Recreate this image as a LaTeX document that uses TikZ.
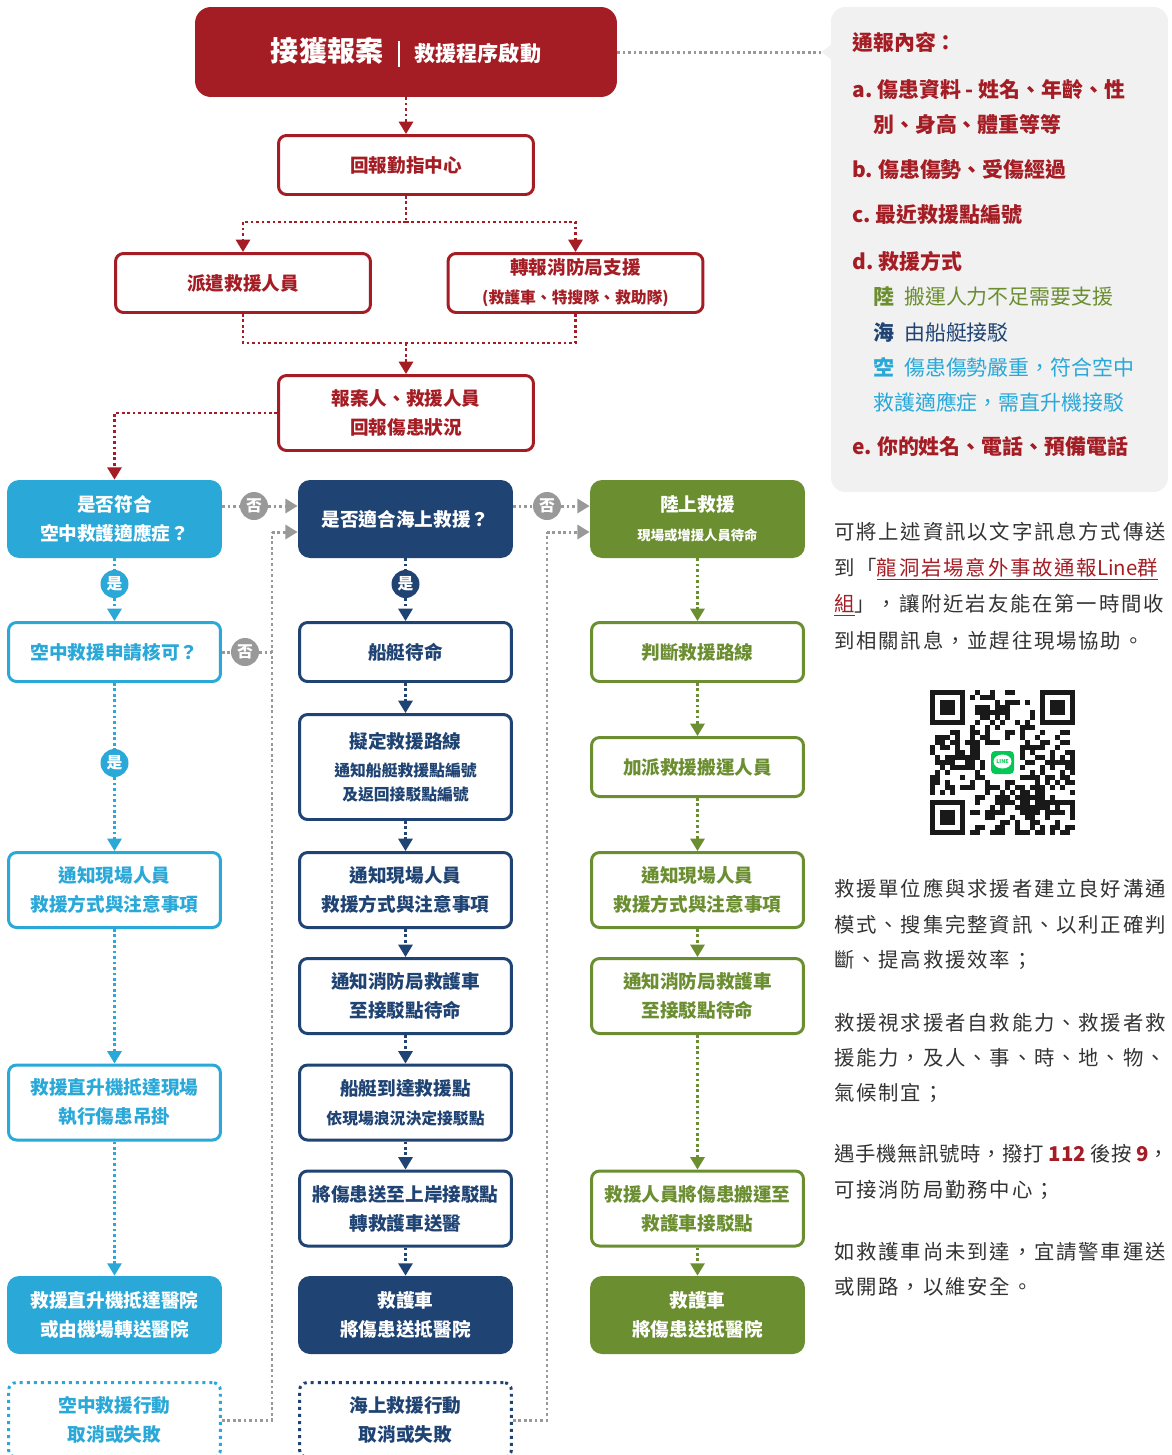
\documentclass[tikz,border=0pt]{standalone}
\usepackage{fontspec}
\setmainfont{Noto Sans CJK TC}
\newfontfamily\bodyface{Noto Sans CJK TC}[LetterSpace=9]
\usepackage{xcolor}
\usepackage{tikz}
\usetikzlibrary{arrows.meta,positioning,calc}
\definecolor{myred}{RGB}{165,29,36}
\definecolor{mycyan}{RGB}{42,168,216}
\definecolor{mynavy}{RGB}{31,67,115}
\definecolor{mygreen}{RGB}{107,142,49}
\definecolor{mygray}{RGB}{153,153,153}
\definecolor{mypanel}{RGB}{241,241,241}
\definecolor{mytext}{RGB}{51,51,51}
\definecolor{lineapp}{RGB}{6,199,85}
\newcommand{\boxfont}{\bfseries\fontsize{10.6}{16.5}\selectfont}
\newcommand{\smallfont}{\bfseries\fontsize{9}{13.7}\selectfont}
\newcommand{\tinyfont}{\bfseries\fontsize{7.6}{10}\selectfont}
\newcommand{\infofont}{\bfseries\fontsize{11.9}{14}\selectfont}
\newcommand{\bodyfont}{\bodyface\fontsize{11.6}{14}\selectfont}
\newcommand{\plainlatin}[1]{{\addfontfeature{LetterSpace=0}#1}}

\begin{document}
\begin{tikzpicture}[
    x=0.02cm, y=-0.02cm,
    redbox/.style={rectangle, draw=myred, text=myred, fill=white, line width=1.7pt, rounded corners=0.16cm, minimum width=5.1cm, minimum height=1.18cm, align=center, font=\boxfont, inner sep=1pt},
    colbox/.style={rectangle, draw=#1, text=#1, fill=white, line width=1.7pt, rounded corners=0.16cm, minimum width=4.24cm, minimum height=1.18cm, align=center, font=\boxfont, inner sep=1pt},
    tallbox/.style={minimum height=1.5cm},
    solidbox/.style={rectangle, fill=#1, text=white, rounded corners=0.24cm, minimum width=4.3cm, minimum height=1.56cm, align=center, font=\boxfont, inner sep=1pt},
    cancelbox/.style={colbox=#1, dash pattern=on 1.7pt off 2.3pt, minimum height=1.5cm},
    yesdot/.style={circle, fill=#1, text=white, minimum size=0.56cm, inner sep=0pt, font=\bfseries\fontsize{9}{9}\selectfont},
    nodot/.style={yesdot=mygray},
    link/.style={draw=#1, line width=1.5pt, dash pattern=on 1.5pt off 1.6pt},
    arrow/.style={link=#1, -{Triangle[width=8pt,length=7pt]}},
    graylink/.style={link=mygray, line width=1.7pt},
    grayarrow/.style={graylink, -{Triangle[width=8pt,length=7pt]}},
    infoline/.style={anchor=west, text=myred, font=\infofont, inner sep=0pt},
    bodyline/.style={anchor=west, text=mytext, font=\bodyfont, inner sep=0pt},
]
    \useasboundingbox (0,0) rectangle (1172,1455);

    % Report chain
    \node[rectangle, fill=myred, rounded corners=0.32cm, minimum width=8.44cm, minimum height=1.8cm, text=white] (alarm) at (406,52)
        {{\fontsize{16}{16}\selectfont\bfseries 接獲報案}\hspace{0.3cm}\rule[-0.12cm]{0.7pt}{0.52cm}\hspace{0.3cm}{\fontsize{12}{12}\selectfont\bfseries 救援程序啟動}};
    \node[redbox] (callcenter) at (406,165) {回報勤指中心};
    \node[redbox] (dispatch) at (243,283) {派遣救援人員};
    \node[redbox] (transfer) at (575.5,283) {轉報消防局支援\\{\smallfont (救護車、特搜隊、救助隊)}};
    \node[redbox, tallbox] (status) at (406,413) {報案人、救援人員\\回報傷患狀況};
    \draw[arrow=myred] (alarm) -- (callcenter);
    \coordinate (split) at (406,222);
    \draw[link=myred] (callcenter) -- (split);
    \draw[arrow=myred] (split) -| (dispatch);
    \draw[arrow=myred] (split) -| (transfer);
    \coordinate (merge) at (406,343);
    \draw[link=myred] (dispatch) |- (merge);
    \draw[link=myred] (transfer) |- (merge);
    \draw[arrow=myred] (merge) -- (status);

    % Air rescue
    \node[solidbox=mycyan] (airhead) at (114.5,519) {是否符合\\空中救護適應症？};
    \node[yesdot=mycyan] (airyes) at (114.5,584) {是};
    \node[colbox=mycyan] (airok) at (114.5,652) {空中救援申請核可？};
    \node[yesdot=mycyan] (airyes2) at (114.5,763) {是};
    \node[colbox=mycyan, tallbox] (airnotify) at (114.5,890) {通知現場人員\\救援方式與注意事項};
    \node[colbox=mycyan, tallbox] (heli) at (114.5,1102.5) {救援直升機抵達現場\\執行傷患吊掛};
    \node[solidbox=mycyan] (airfinal) at (114.5,1315) {救援直升機抵達醫院\\或由機場轉送醫院};
    \node[cancelbox=mycyan] (aircancel) at (114.5,1420) {空中救援行動\\取消或失敗};
    \draw[arrow=myred] (status) -| (airhead);
    \draw[link=mycyan] (airhead) -- (airyes);
    \draw[arrow=mycyan] (airyes) -- (airok);
    \draw[link=mycyan] (airok) -- (airyes2);
    \draw[arrow=mycyan] (airyes2) -- (airnotify);
    \draw[arrow=mycyan] (airnotify) -- (heli);
    \draw[arrow=mycyan] (heli) -- (airfinal);

    % Sea rescue
    \node[solidbox=mynavy] (seahead) at (405.5,519) {是否適合海上救援？};
    \node[yesdot=mynavy] (seayes) at (405.5,584) {是};
    \node[colbox=mynavy] (boat) at (405.5,652) {船艇待命};
    \node[colbox=mynavy, minimum height=2.1cm, font=\smallfont] (route) at (405.5,767) {{\boxfont 擬定救援路線}\\[2.4pt]通知船艇救援點編號\\及返回接駁點編號};
    \node[colbox=mynavy, tallbox] (seanotify) at (405.5,890) {通知現場人員\\救援方式與注意事項};
    \node[colbox=mynavy, tallbox] (seaamb) at (405.5,996) {通知消防局救護車\\至接駁點待命};
    \node[colbox=mynavy, tallbox] (arrive) at (405.5,1102.5) {船艇到達救援點\\{\smallfont 依現場浪況決定接駁點}};
    \node[colbox=mynavy, tallbox] (shore) at (405.5,1208.5) {將傷患送至上岸接駁點\\轉救護車送醫};
    \node[solidbox=mynavy] (seafinal) at (405.5,1315) {救護車\\將傷患送抵醫院};
    \node[cancelbox=mynavy] (seacancel) at (405.5,1420) {海上救援行動\\取消或失敗};
    \draw[link=mynavy] (seahead) -- (seayes);
    \draw[arrow=mynavy] (seayes) -- (boat);
    \draw[arrow=mynavy] (boat) -- (route);
    \draw[arrow=mynavy] (route) -- (seanotify);
    \draw[arrow=mynavy] (seanotify) -- (seaamb);
    \draw[arrow=mynavy] (seaamb) -- (arrive);
    \draw[arrow=mynavy] (arrive) -- (shore);
    \draw[arrow=mynavy] (shore) -- (seafinal);

    % Land rescue
    \node[solidbox=mygreen] (landhead) at (697.5,519) {陸上救援\\{\tinyfont 現場或增援人員待命}};
    \node[colbox=mygreen] (judge) at (697.5,652) {判斷救援路線};
    \node[colbox=mygreen] (porters) at (697.5,767) {加派救援搬運人員};
    \node[colbox=mygreen, tallbox] (landnotify) at (697.5,890) {通知現場人員\\救援方式與注意事項};
    \node[colbox=mygreen, tallbox] (landamb) at (697.5,996) {通知消防局救護車\\至接駁點待命};
    \node[colbox=mygreen, tallbox] (carry) at (697.5,1208.5) {救援人員將傷患搬運至\\救護車接駁點};
    \node[solidbox=mygreen] (landfinal) at (697.5,1315) {救護車\\將傷患送抵醫院};
    \draw[arrow=mygreen] (landhead) -- (judge);
    \draw[arrow=mygreen] (judge) -- (porters);
    \draw[arrow=mygreen] (porters) -- (landnotify);
    \draw[arrow=mygreen] (landnotify) -- (landamb);
    \draw[arrow=mygreen] (landamb) -- (carry);
    \draw[arrow=mygreen] (carry) -- (landfinal);

    % No branches and fall-backs
    \node[nodot] (airno) at (254,506) {否};
    \draw[graylink] (airno -| airhead.east) -- (airno);
    \draw[grayarrow] (airno) -- (airno -| seahead.west);
    \node[nodot] (okno) at (245,652) {否};
    \draw[graylink] (airok) -- (okno);
    \coordinate (airback) at (272,532);
    \draw[graylink] (okno) -- (okno -| airback);
    \draw[graylink] (aircancel) -| (airback);
    \draw[grayarrow] (airback) -- (airback -| seahead.west);
    \node[nodot] (seano) at (547,506) {否};
    \draw[graylink] (seano -| seahead.east) -- (seano);
    \draw[grayarrow] (seano) -- (seano -| landhead.west);
    \coordinate (seaback) at (547,532);
    \draw[graylink] (seacancel) -| (seaback);
    \draw[grayarrow] (seaback) -- (seaback -| landhead.west);

    % Info panel
    \node[rectangle, fill=mypanel, rounded corners=0.28cm, minimum width=6.74cm, minimum height=9.7cm] (info) at (999.5,249.5) {};
    \draw[graylink] (alarm) -- (alarm -| info.west);
    \fill[mypanel] (alarm.east -| info.west) ++(1,-8) -- ++(-10,8) -- ++(10,8) -- cycle;
    \node[infoline] (infohead) at (852,42) {通報內容：};
    \node[infoline] (infoa) at (852,90) {a.\hspace{0.1cm}傷患資料 - 姓名、年齡、性};
    \node[infoline] (infoa2) at (873,124) {別、身高、體重等等};
    \node[infoline] (infob) at (852,170) {b.\hspace{0.1cm}傷患傷勢、受傷經過};
    \node[infoline] (infoc) at (852,215) {c.\hspace{0.1cm}最近救援點編號};
    \node[infoline] (infod) at (852,261) {d.\hspace{0.1cm}救援方式};
    \node[infoline, text=mygreen] (infoland) at (873,297) {陸\hspace{0.2cm}{\mdseries 搬運人力不足需要支援}};
    \node[infoline, text=mynavy] (infosea) at (873,332) {海\hspace{0.2cm}{\mdseries 由船艇接駁}};
    \node[infoline, text=mycyan] (infoair) at (873,367) {空\hspace{0.2cm}{\mdseries 傷患傷勢嚴重，符合空中}};
    \node[infoline, text=mycyan, font=\infofont\mdseries] (infoair2) at (873,402) {救護適應症，需直升機接駁};
    \node[infoline] (infoe) at (852,447) {e.\hspace{0.1cm}你的姓名、電話、預備電話};

    % Notes
    \node[bodyline] (msg1) at (834,532) {可將上述資訊以文字訊息方式傳送};
    \node[bodyline] (msg2) at (834,569) {到「{\color{myred}\underline{龍洞岩場意外事故通報\plainlatin{Line}群}}};
    \node[bodyline] (msg3) at (834,605) {{\color{myred}\underline{組}}」，讓附近岩友能在第一時間收};
    \node[bodyline] (msg4) at (834,641) {到相關訊息，並趕往現場協助。};
    \node[bodyline] (tipa1) at (834,889) {救援單位應與求援者建立良好溝通};
    \node[bodyline] (tipa2) at (834,925) {模式、搜集完整資訊、以利正確判};
    \node[bodyline] (tipa3) at (834,960) {斷、提高救援效率；};
    \node[bodyline] (tipb1) at (834,1023) {救援視求援者自救能力、救援者救};
    \node[bodyline] (tipb2) at (834,1058) {援能力，及人、事、時、地、物、};
    \node[bodyline] (tipb3) at (834,1093) {氣候制宜；};
    \node[bodyline, font=\bodyfont\addfontfeature{LetterSpace=3}] (tipc1) at (834,1154) {遇手機無訊號時，撥打\hspace{0.1cm}{\color{myred}\bfseries\plainlatin{112}}\hspace{0.1cm}後按\hspace{0.08cm}{\color{myred}\bfseries\plainlatin{9}}，};
    \node[bodyline] (tipc2) at (834,1190) {可接消防局勤務中心；};
    \node[bodyline] (tipd1) at (834,1252) {如救護車尚未到達，宜請警車運送};
    \node[bodyline] (tipd2) at (834,1287) {或開路，以維安全。};

    % QR code
    \begin{scope}[shift={(930,690)}]
        \pgfmathsetseed{42}
        \foreach \i in {0,...,28}{
            \foreach \j in {0,...,28}{
                \pgfmathtruncatemacro{\skipcell}{((\i<8)&&(\j<8))||((\i>20)&&(\j<8))||((\i<8)&&(\j>20))||((\i>10)&&(\i<18)&&(\j>10)&&(\j<18))}
                \pgfmathtruncatemacro{\dark}{rnd<0.5}
                \ifnum\skipcell=0 \ifnum\dark=1 \fill[black!90] (5*\i,5*\j) rectangle ++(5.2,5.2); \fi\fi
            }
        }
        \foreach \fx/\fy in {0/0, 110/0, 0/110}{
            \fill[black!90] (\fx,\fy) rectangle ++(35,35);
            \fill[white] (\fx+5,\fy+5) rectangle ++(25,25);
            \fill[black!90] (\fx+10,\fy+10) rectangle ++(15,15);
        }
        \fill[white, rounded corners=0.1cm] (57,57) rectangle ++(31,31);
        \fill[lineapp, rounded corners=0.08cm] (61,61) rectangle ++(23,23);
        \fill[white] (72.5,71.5) ellipse [x radius=0.18cm, y radius=0.14cm];
        \node[text=lineapp, font=\bfseries\fontsize{3}{3}\selectfont, inner sep=0pt] (linemark) at (72.5,71.5) {LINE};
    \end{scope}
\end{tikzpicture}
\end{document}
